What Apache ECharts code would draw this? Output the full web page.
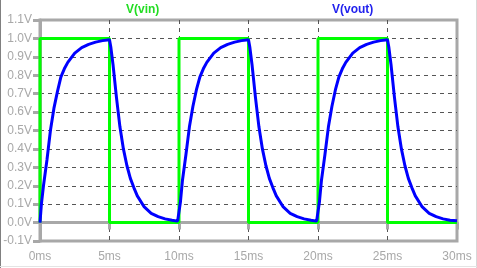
<!DOCTYPE html>
<html>
<head>
<meta charset="utf-8">
<script src="https://cdn.jsdelivr.net/npm/echarts@6/dist/echarts.min.js"></script>
<style>
html,body{margin:0;padding:0;background:#fff;}
#c{width:477px;height:268px;}
</style>
</head>
<body>
<div id="c"></div>
<script>
// Tick labels
const xTicks = [0, 5, 10, 15, 20, 25, 30];            // ms
const yTicks = [-0.1, 0.0, 0.1, 0.2, 0.3, 0.4, 0.5, 0.6, 0.7, 0.8, 0.9, 1.0, 1.1]; // V
const seriesNames = ['V(vin)', 'V(vout)'];

// V(vin) square wave
const vinTimes  = [0, 0, 5, 5, 10, 10, 15, 15, 20, 20, 25, 25, 30];
const vinValues = [0, 1, 1, 0, 0,  1,  1,  0,  0,  1,  1,  0,  0];

// V(vout)
const voutTimes = [
  0, 0.1, 0.25, 0.5, 0.75, 1, 1.25, 1.5, 1.75, 2, 2.5, 3, 3.5, 4, 4.5, 5,
  5.1, 5.25, 5.5, 5.75, 6, 6.25, 6.5, 6.75, 7, 7.5, 8, 8.5, 9, 9.5, 9.9,
  10, 10.1, 10.25, 10.5, 10.75, 11, 11.25, 11.5, 11.75, 12, 12.5, 13, 13.5, 14, 14.5, 15,
  15.1, 15.25, 15.5, 15.75, 16, 16.25, 16.5, 16.75, 17, 17.5, 18, 18.5, 19, 19.5, 19.9,
  20, 20.1, 20.25, 20.5, 20.75, 21, 21.25, 21.5, 21.75, 22, 22.5, 23, 23.5, 24, 24.5, 25,
  25.1, 25.25, 25.5, 25.75, 26, 26.25, 26.5, 26.75, 27, 27.5, 28, 28.5, 29, 29.5, 30
];
const voutValues = [
  0.0, 0.10, 0.20, 0.34, 0.50, 0.62, 0.71, 0.79, 0.835, 0.87, 0.92, 0.95, 0.968, 0.98, 0.988, 0.993,
  0.95, 0.86, 0.68, 0.52, 0.40, 0.31, 0.24, 0.19, 0.145, 0.085, 0.05, 0.032, 0.02, 0.013, 0.008,
  0.01, 0.11, 0.23, 0.37, 0.52, 0.63, 0.72, 0.79, 0.835, 0.87, 0.92, 0.95, 0.968, 0.98, 0.988, 0.993,
  0.95, 0.86, 0.68, 0.52, 0.40, 0.31, 0.24, 0.19, 0.145, 0.085, 0.05, 0.032, 0.02, 0.013, 0.008,
  0.01, 0.11, 0.23, 0.37, 0.52, 0.63, 0.72, 0.79, 0.835, 0.87, 0.92, 0.95, 0.968, 0.98, 0.988, 0.993,
  0.95, 0.86, 0.68, 0.52, 0.40, 0.31, 0.24, 0.19, 0.145, 0.085, 0.05, 0.032, 0.02, 0.013, 0.01
];

const GRAY = '#a8a8a8';
const DASH = '#555555';
const chart = echarts.init(document.getElementById('c'), null, {renderer: 'canvas'});

const yColors = yTicks.map((v, i) => (i === 0 || i === yTicks.length - 1) ? 'rgba(0,0,0,0)' : DASH);
const xColors = xTicks.map((v, i) => (i === 0 || i === xTicks.length - 1) ? 'rgba(0,0,0,0)' : DASH);

chart.setOption({
  animation: false,
  backgroundColor: '#ffffff',
  grid: {
    left: 40, top: 20, right: 20, bottom: 27,
    show: true, borderColor: GRAY, borderWidth: 3, backgroundColor: 'transparent',
    containLabel: false, outerBoundsMode: 'none'
  },
  xAxis: {
    type: 'value',
    min: xTicks[0], max: xTicks[xTicks.length - 1], interval: 5,
    axisLine: {show: true, lineStyle: {color: GRAY, width: 3}},
    axisTick: {show: true, inside: false, length: 7, lineStyle: {color: GRAY, width: 3}},
    axisLabel: {
      show: true, margin: 10, color: GRAY, fontFamily: 'Liberation Sans, Arial, sans-serif',
      fontSize: 12, showMinLabel: true, showMaxLabel: true,
      formatter: v => v + 'ms'
    },
    splitLine: {show: true, lineStyle: {color: xColors, width: 1, type: [4, 4]}}
  },
  yAxis: {
    type: 'value',
    min: yTicks[0], max: yTicks[yTicks.length - 1], interval: 0.1,
    axisLine: {show: true, lineStyle: {color: GRAY, width: 3}},
    axisTick: {show: true, inside: false, length: 7, lineStyle: {color: GRAY, width: 3}},
    axisLabel: {
      show: true, margin: 8, color: GRAY, fontFamily: 'Liberation Sans, Arial, sans-serif',
      fontSize: 12, showMinLabel: true, showMaxLabel: true,
      formatter: v => (Math.round(v * 10) / 10).toFixed(1) + 'V'
    },
    splitLine: {show: true, lineStyle: {color: yColors, width: 1, type: [4, 4]}}
  },
  graphic: [
    {type: 'text', left: 126, top: 4, style: {text: seriesNames[0], fill: '#22dd22', font: 'bold 12px "Liberation Sans", Arial, sans-serif'}},
    {type: 'text', left: 332, top: 4, style: {text: seriesNames[1], fill: '#2222ee', font: 'bold 12px "Liberation Sans", Arial, sans-serif'}},
    {type: 'rect', shape: {x: 0, y: 0, width: 1, height: 268}, style: {fill: '#808080'}},
    {type: 'rect', shape: {x: 476, y: 0, width: 1, height: 268}, style: {fill: '#d8d8d8'}},
    {type: 'rect', shape: {x: 0, y: 266, width: 477, height: 1}, style: {fill: '#e4e4e4'}}
  ],
  series: [
    {
      name: seriesNames[0], type: 'line', showSymbol: false, symbol: 'none', smooth: false,
      lineStyle: {color: '#00ff00', width: 3},
      data: vinTimes.map((t, i) => [t, vinValues[i]]), z: 2
    },
    {
      name: seriesNames[1], type: 'line', showSymbol: false, symbol: 'none', smooth: false,
      lineStyle: {color: '#0000ff', width: 3},
      data: voutTimes.map((t, i) => [t, voutValues[i]]), z: 3
    }
  ]
});
</script>
</body>
</html>
